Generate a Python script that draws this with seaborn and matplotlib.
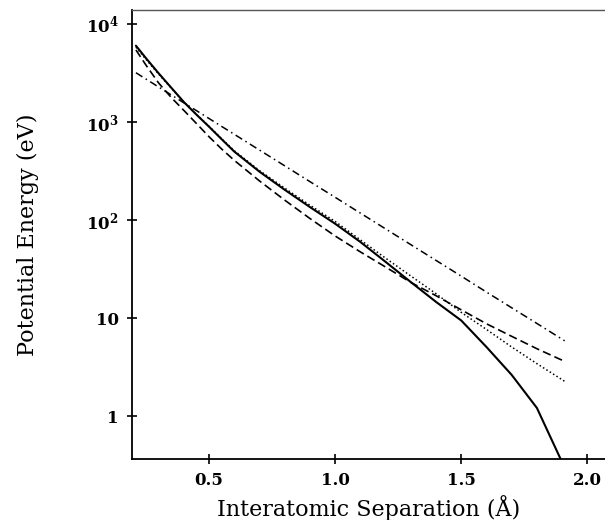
import numpy as np
import pandas as pd
import matplotlib
matplotlib.use("Agg")
import matplotlib.pyplot as plt
import seaborn as sns

# Interatomic separation (Å)
separation = [0.21, 0.25, 0.30, 0.35, 0.40, 0.45, 0.50, 0.55, 0.60, 0.70,
              0.80, 0.90, 1.00, 1.10, 1.20, 1.30, 1.40, 1.50, 1.60, 1.70,
              1.80, 1.91]

# Potential energy (eV) for each model
pot_solid = [6000, 4470, 3140, 2240, 1600, 1190, 896, 668, 500, 312,
             204, 136, 92, 60, 37.6, 23.4, 14.7, 9.5, 5.1, 2.65,
             1.22, 0.30]
pot_dashed = [5430, 3800, 2500, 1780, 1315, 966, 708, 531, 407, 251,
              160, 104, 69, 47.5, 33.3, 23.2, 17.0, 12.2, 8.8, 6.55,
              4.9, 3.64]
pot_dotted = [5800, 4350, 3080, 2220, 1600, 1195, 905, 675, 510, 320,
              212, 142, 97, 63, 41, 27, 17.8, 11.5, 7.7, 5.1,
              3.45, 2.28]
pot_dashdot = [3180, 2740, 2275, 1890, 1570, 1307, 1086, 902, 750, 518,
               358, 247, 171, 118, 81.5, 56.3, 38.9, 26.9, 18.5, 12.8,
               8.86, 5.9]

ytick_vals = [1, 10, 100, 1000, 10000]
ytick_labels = ["1", "10", r"$\mathbf{10^2}$", r"$\mathbf{10^3}$", r"$\mathbf{10^4}$"]
xtick_vals = [0.5, 1.0, 1.5, 2.0]
xtick_labels = ["0.5", "1.0", "1.5", "2.0"]

frames = []
for name, vals in [("solid", pot_solid), ("dashed", pot_dashed),
                   ("dotted", pot_dotted), ("dashdot", pot_dashdot)]:
    frames.append(pd.DataFrame({"r": separation, "E": vals, "model": name}))
df = pd.concat(frames, ignore_index=True)

sns.set_theme(style="ticks")
plt.rcParams["font.family"] = ["DejaVu Serif"]
plt.rcParams["mathtext.fontset"] = "dejavuserif"
plt.rcParams["text.color"] = "black"
plt.rcParams["axes.labelcolor"] = "black"

fig = plt.figure(figsize=(6.05, 5.2), dpi=100)
ax = fig.add_axes([0.218, 0.117, 0.782, 0.864])

dash_map = {"solid": "", "dashed": (5, 2.5), "dotted": (1, 1.6),
            "dashdot": (5, 2.5, 1, 2.5)}
width_map = {"solid": 1.5, "dashed": 1.2, "dotted": 1.1, "dashdot": 1.1}

sns.lineplot(data=df, x="r", y="E", style="model", dashes=dash_map,
             color="black", legend=False, ax=ax, estimator=None, sort=False)
for line, name in zip(ax.get_lines(), ["solid", "dashed", "dotted", "dashdot"]):
    line.set_linewidth(width_map[name])

ax.set_yscale("log")
ax.set_xlim(0.194, 2.07)
ax.set_ylim(0.367, 13900)

ax.set_yticks(ytick_vals)
ax.set_yticklabels(ytick_labels)
ax.set_xticks(xtick_vals)
ax.set_xticklabels(xtick_labels)
ax.yaxis.set_minor_locator(matplotlib.ticker.NullLocator())
ax.xaxis.set_minor_locator(matplotlib.ticker.NullLocator())

ax.tick_params(direction="inout", length=7, width=1.2, colors="black",
               labelsize=12, pad=6)
for lab in ax.get_xticklabels() + ax.get_yticklabels():
    lab.set_fontweight("bold")

for side in ["left", "bottom"]:
    ax.spines[side].set_linewidth(1.3)
    ax.spines[side].set_color("black")
ax.spines["top"].set_linewidth(1.0)
ax.spines["top"].set_color("#555555")
ax.spines["right"].set_visible(False)

ax.set_xlabel("Interatomic Separation (Å)", fontsize=16, labelpad=4, color="black")
ax.set_ylabel("Potential Energy (eV)", fontsize=16, labelpad=34, color="black")

fig.savefig("out.png", dpi=100, facecolor="white")
